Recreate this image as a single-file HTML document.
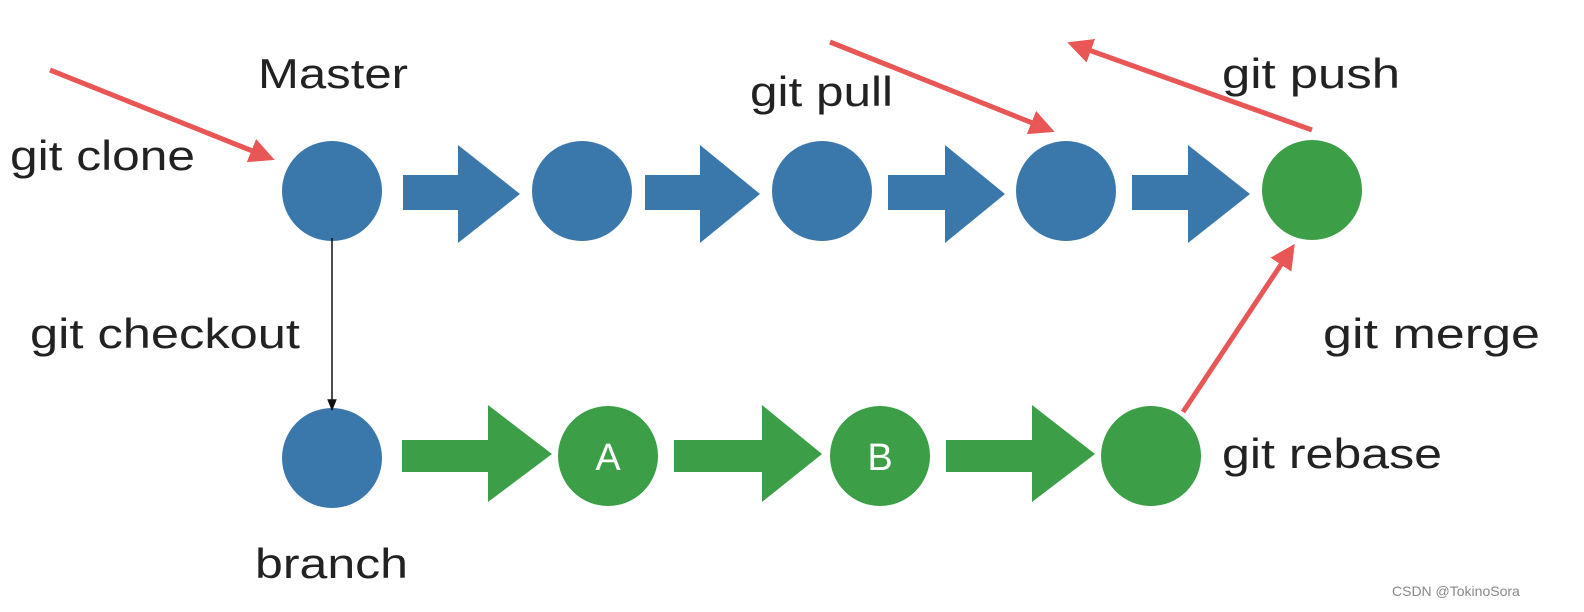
<!DOCTYPE html>
<html><head><meta charset="utf-8"><style>
html,body{margin:0;padding:0;background:#fff;width:1584px;height:612px;overflow:hidden}
svg text{font-family:"Liberation Sans",sans-serif;fill:#222}
</style></head><body>
<svg width="1584" height="612" viewBox="0 0 1584 612">
<defs>
<marker id="rh" viewBox="0 0 10 10" refX="8" refY="5" markerWidth="5" markerHeight="5" orient="auto"><path d="M0,0 L10,5 L0,10 z" fill="#e85656"/></marker>
<marker id="bh" viewBox="0 0 10 10" refX="9" refY="5" markerWidth="8" markerHeight="8" orient="auto"><path d="M0,1 L10,5 L0,9 z" fill="#111"/></marker>
</defs>
<g fill="#3a78ab">
<ellipse cx="332" cy="191" rx="50" ry="50"/>
<ellipse cx="582" cy="191" rx="50" ry="50"/>
<ellipse cx="822" cy="191" rx="50" ry="50"/>
<ellipse cx="1066" cy="191" rx="50" ry="50"/>
<ellipse cx="332" cy="458" rx="50" ry="50"/>
<path d="M403,175 H458 V145 L520,194 L458,243 V210 H403 Z"/>
<path d="M645,175 H700 V145 L760,194 L700,243 V210 H645 Z"/>
<path d="M888,175 H945 V145 L1005,194 L945,243 V210 H888 Z"/>
<path d="M1132,175 H1188 V145 L1250,194 L1188,243 V210 H1132 Z"/>
</g>
<g fill="#3d9e48">
<ellipse cx="1312" cy="190" rx="50" ry="50"/>
<ellipse cx="608" cy="456" rx="50" ry="50"/>
<ellipse cx="880" cy="456" rx="50" ry="50"/>
<ellipse cx="1151" cy="456" rx="50" ry="50"/>
<path d="M402,440 H488 V405 L552,454 L488,502 V472 H402 Z"/>
<path d="M674,440 H762 V405 L822,454 L762,502 V472 H674 Z"/>
<path d="M946,440 H1032 V405 L1095,454 L1032,502 V472 H946 Z"/>
</g>
<text x="608" y="470" font-size="38" text-anchor="middle" style="fill:#fff">A</text>
<text x="880" y="470" font-size="38" text-anchor="middle" style="fill:#fff">B</text>
<line x1="332" y1="238" x2="332" y2="410" stroke="#111" stroke-width="1.5" marker-end="url(#bh)"/>
<g stroke="#e85656" stroke-width="5" fill="none">
<line x1="50" y1="70" x2="270" y2="158" marker-end="url(#rh)"/>
<line x1="830" y1="42" x2="1050" y2="130" marker-end="url(#rh)"/>
<line x1="1312" y1="130" x2="1072" y2="44" marker-end="url(#rh)"/>
<line x1="1183" y1="412" x2="1292" y2="248" marker-end="url(#rh)"/>
</g>
<g font-size="42">
<text x="258" y="88" textLength="150" lengthAdjust="spacingAndGlyphs">Master</text>
<text x="10" y="170" textLength="185" lengthAdjust="spacingAndGlyphs">git clone</text>
<text x="750" y="106" textLength="143" lengthAdjust="spacingAndGlyphs">git pull</text>
<text x="1222" y="88" textLength="178" lengthAdjust="spacingAndGlyphs">git push</text>
<text x="30" y="348" textLength="270" lengthAdjust="spacingAndGlyphs">git checkout</text>
<text x="1323" y="348" textLength="217" lengthAdjust="spacingAndGlyphs">git merge</text>
<text x="1222" y="468" textLength="220" lengthAdjust="spacingAndGlyphs">git rebase</text>
<text x="255" y="578" textLength="153" lengthAdjust="spacingAndGlyphs">branch</text>
</g>
<text x="1392" y="596" font-size="14" style="fill:#888">CSDN @TokinoSora</text>
</svg>
</body></html>
